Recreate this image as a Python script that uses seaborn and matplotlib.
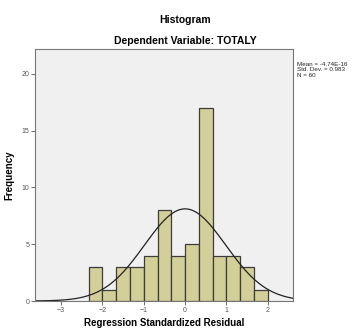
import numpy as np
import pandas as pd
import matplotlib
matplotlib.use('Agg')
import matplotlib.pyplot as plt
import seaborn as sns

# ---- data ----
bin_width = 1 / 3
bin_start = -7 / 3
counts = [3, 1, 3, 3, 4, 8, 4, 5, 17, 4, 4, 3, 1]
resid_mean = -4.74e-16
resid_sd = 0.983
n_obs = 60
x_ticks = [-3, -2, -1, 0, 1, 2]
y_ticks = [0, 5, 10, 15, 20]

edges = [bin_start + bin_width * i for i in range(len(counts) + 1)]
centers = [(a + b) / 2 for a, b in zip(edges[:-1], edges[1:])]
df = pd.DataFrame({'resid': centers, 'count': counts})

# fitted normal curve scaled to counts
xs = np.linspace(-3.63, 2.61, 300)
ys = n_obs * bin_width * np.exp(-0.5 * ((xs - resid_mean) / resid_sd) ** 2) / (resid_sd * np.sqrt(2 * np.pi))
curve = pd.DataFrame({'x': xs, 'y': ys})

sns.set_style('white')
plt.rcParams['font.family'] = ['Liberation Sans', 'DejaVu Sans']
plt.rcParams['text.color'] = 'black'
plt.rcParams['axes.labelcolor'] = 'black'

fig = plt.figure(figsize=(3.52, 3.29), dpi=100)
ax = fig.add_axes([35 / 352, 28 / 329, 258 / 352, 252 / 329])
ax.set_facecolor('#f0f0f0')

sns.histplot(data=df, x='resid', weights='count', bins=edges, stat='count',
             color='#d3cf98', edgecolor='#3c3c3c', linewidth=0.9, alpha=1, ax=ax)
sns.lineplot(data=curve, x='x', y='y', color='#222222', linewidth=0.9, ax=ax)

ax.set_xlim(-3.63, 2.61)
ax.set_ylim(0, 22.2)
ax.set_xticks(x_ticks)
ax.set_yticks(y_ticks)
ax.tick_params(axis='both', which='both', direction='out', length=3, width=0.6,
               colors='#555555', labelsize=5, pad=1, bottom=True, left=True)
for s in ax.spines.values():
    s.set_color('#777777')
    s.set_linewidth(0.8)

ax.set_xlabel('Regression Standardized Residual', fontsize=7, fontweight='bold', labelpad=3)
ax.set_ylabel('Frequency', fontsize=7, fontweight='bold', labelpad=5)

fig.text(185 / 352, 1 - 20 / 329, 'Histogram', ha='center', va='center',
         fontsize=7.5, fontweight='bold')
fig.text(185 / 352, 1 - 41 / 329, 'Dependent Variable: TOTALY', ha='center', va='center',
         fontsize=7.5, fontweight='bold')
fig.text(297 / 352, 1 - 62 / 329,
         f'Mean = -4.74E-16\nStd. Dev. = {resid_sd}\nN = {n_obs}',
         ha='left', va='top', fontsize=4.5, linespacing=1.1, color='#222222')

fig.savefig('out.png', dpi=100)
